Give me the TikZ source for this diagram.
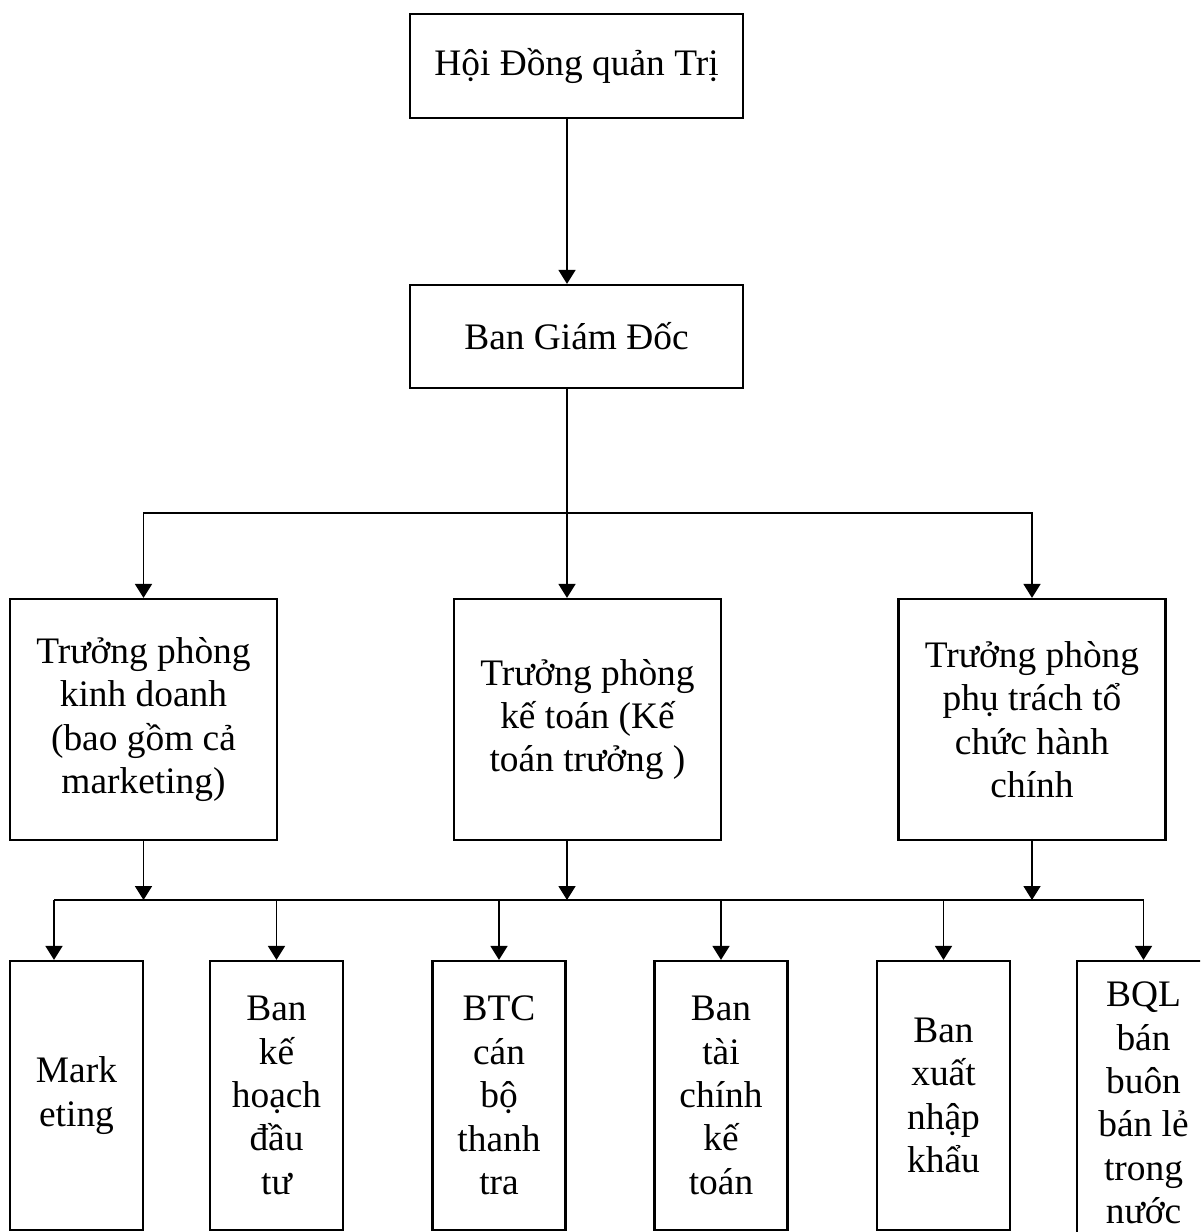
\documentclass[tikz,border=0pt]{standalone}
\usepackage{fontspec}
\setmainfont{Liberation Serif}
\usetikzlibrary{arrows.meta}
\begin{document}
\begin{tikzpicture}[x=0.5pt,y=-0.5pt,
  box/.style={draw, line width=1.1pt, align=center, inner sep=0pt,
    font=\fontsize{18.7}{21.7}\selectfont},
  topbox/.style={box, minimum width=166.5pt, minimum height=52pt},
  midbox/.style={box, minimum width=133.5pt, minimum height=120.5pt},
  lowbox/.style={box, minimum width=66.5pt, minimum height=134.5pt},
  conn/.style={line width=0.85pt},
  arr/.style={conn, -{Triangle[width=8.5pt,length=7pt]}}]
\clip (0,0) rectangle (1200,1232);
\fill[white] (0,0) rectangle (1200,1232);

% top level
\node[topbox] (hdqt) at (576.5,66) {Hội Đồng quản Trị};
\node[topbox, minimum height=51.5pt] (bgd) at (576.5,336.5) {Ban Giám Đốc};

% middle level
\node[midbox] (tp1) at (143.5,719.5) {Trưởng phòng\\kinh doanh\\(bao gồm cả\\marketing)};
\node[midbox] (tp2) at (587.5,719.5) {Trưởng phòng\\kế toán (Kế\\toán trưởng )};
\node[midbox] (tp3) at (1032,719.5) {Trưởng phòng\\phụ trách tổ\\chức hành\\chính};

% bottom level
\node[lowbox] (b1) at (76.5,1095.5) {Mark\\eting};
\node[lowbox] (b2) at (276.5,1095.5) {Ban\\kế\\hoạch\\đầu\\tư};
\node[lowbox] (b3) at (499,1095.5) {BTC\\cán\\bộ\\thanh\\tra};
\node[lowbox] (b4) at (721,1095.5) {Ban\\tài\\chính\\kế\\toán};
\node[lowbox] (b5) at (943.5,1095.5) {Ban\\xuất\\nhập\\khẩu};
\node[lowbox, minimum height=142pt] (b6) at (1143.5,1103) {BQL\\bán\\buôn\\bán lẻ\\trong\\nước};

% junctions
\coordinate (ax) at (567,0);
\coordinate (j1) at (567,513);
\coordinate (h1) at (54,900);

% connectors
\draw[arr] (hdqt.south -| ax) -- (bgd.north -| ax);
\draw[conn] (bgd.south -| ax) -- (j1);
\draw[arr] (j1) -| (tp1.north);
\draw[arr] (j1) -- (tp2.north -| ax);
\draw[arr] (j1) -| (tp3.north);

\draw[arr] (tp1.south) -- (tp1.south |- h1);
\draw[arr] (tp2.south -| ax) -- (ax |- h1);
\draw[arr] (tp3.south) -- (tp3.south |- h1);

\draw[conn] (h1) -- (h1 -| b6.north);
\draw[arr] (h1) -- (h1 |- b1.north);
\draw[arr] (b2.north |- h1) -- (b2.north);
\draw[arr] (b3.north |- h1) -- (b3.north);
\draw[arr] (b4.north |- h1) -- (b4.north);
\draw[arr] (b5.north |- h1) -- (b5.north);
\draw[arr] (b6.north |- h1) -- (b6.north);
\end{tikzpicture}
\end{document}
